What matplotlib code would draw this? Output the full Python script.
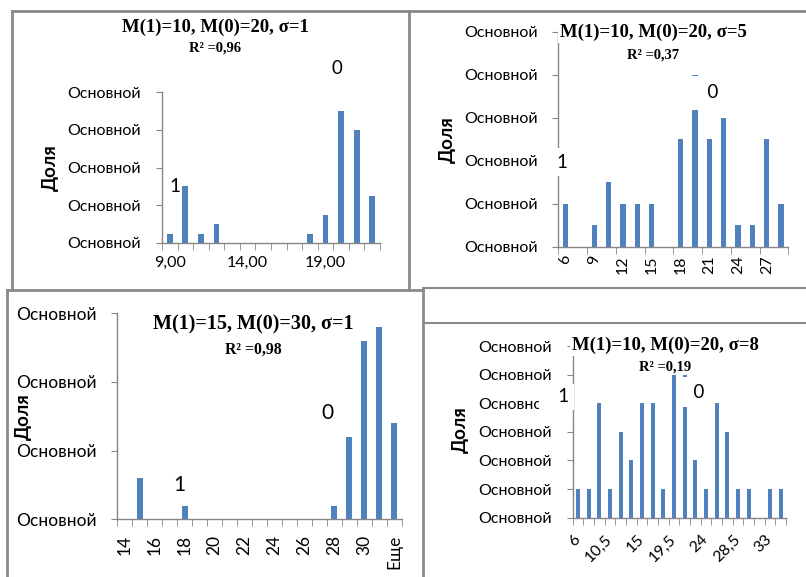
import numpy as np
import matplotlib
matplotlib.use("Agg")
import matplotlib.pyplot as plt
from matplotlib.lines import Line2D

plt.rcParams['font.family'] = ['Lato', 'DejaVu Sans']

W, H = 806, 577
BLUE = '#4F81BD'
GRID = '#868686'
SERIF = 'Liberation Serif'

# panel 1: M(1)=10, M(0)=20, sigma=1
cats1 = [f'{v},00' for v in range(9, 23)]
vals1 = [0.25, 1.5, 0.25, 0.5, 0, 0, 0, 0, 0, 0.25, 0.75, 3.5, 3.0, 1.25]

# panel 2: M(1)=10, M(0)=20, sigma=5
cats2 = ['6', '7,5', '9', '10,5', '12', '13,5', '15', '16,5', '18', '19,5',
         '21', '22,5', '24', '25,5', '27', '28,5']
vals2 = [1, 0, 0.5, 1.5, 1, 1, 1, 0, 2.5, 4, 2.5, 3, 0.5, 0.5, 2.5, 1]

# panel 3: M(1)=15, M(0)=30, sigma=1
cats3 = [str(v) for v in range(14, 32)] + ['Еще']
vals3 = [0, 0.6, 0, 0, 0.2, 0, 0, 0, 0, 0, 0, 0, 0, 0, 0.2, 1.2, 2.6, 2.8, 1.4]

# panel 4: M(1)=10, M(0)=20, sigma=8
cats4 = ['6', '7,5', '9', '10,5', '12', '13,5', '15', '16,5', '18', '19,5',
         '21', '22,5', '24', '25,5', '27', '28,5', '30', '31,5', '33', '34,5']
vals4 = [1, 1, 4, 1, 3, 2, 4, 4, 1, 5, 5, 2, 1, 4, 3, 1, 1, 0, 1, 1]

titles = ['M(1)=10, M(0)=20, σ=1', 'M(1)=10, M(0)=20, σ=5',
          'M(1)=15, M(0)=30, σ=1', 'M(1)=10, M(0)=20, σ=8']
r2 = ['0,96', '0,37', '0,98', '0,19']

fig = plt.figure(figsize=(W / 100, H / 100), dpi=100)


def fx(x):
    return x / W


def fy(y):
    return 1 - y / H


def add_panel(box, cats, vals, ymax, lab_step, tick_step, rot, fs=11.5, xpad=8):
    x0, y0, x1, y1 = box
    ax = fig.add_axes([fx(x0), fy(y1), fx(x1) - fx(x0), (y1 - y0) / H])
    n = len(cats)
    pos = np.arange(n) + 0.5
    ax.bar(pos, vals, width=0.38, color=BLUE, zorder=2)
    ax.set_xlim(0, n)
    ax.set_ylim(0, ymax)
    for s in ['top', 'right']:
        ax.spines[s].set_visible(False)
    for s in ['left', 'bottom']:
        ax.spines[s].set_color(GRID)
        ax.spines[s].set_linewidth(1.0)
    ax.set_yticks(range(ymax + 1))
    ax.set_yticklabels(['Основной'] * (ymax + 1), fontsize=fs)
    ax.tick_params(axis='y', length=4, color=GRID, pad=11)
    ax.set_xticks(pos[::lab_step])
    if rot == 0:
        ax.set_xticklabels(cats[::lab_step], fontsize=fs)
    elif rot == 90:
        ax.set_xticklabels(cats[::lab_step], fontsize=fs, rotation=90, va='top', ha='center')
    else:
        ax.set_xticklabels(cats[::lab_step], fontsize=fs, rotation=45, ha='right',
                           va='center', rotation_mode='anchor')
    ax.tick_params(axis='x', which='major', length=0, pad=xpad)
    ax.set_xticks(np.arange(0, n + 1, tick_step), minor=True)
    ax.tick_params(axis='x', which='minor', length=5, color=GRID)
    return ax


add_panel((162, 92, 380, 243), cats1, vals1, 4, 5, 1, 0, xpad=9)
add_panel((558.3, 31.7, 788.3, 246.7), cats2, vals2, 5, 2, 2, 90, xpad=6)
add_panel((117.3, 313.3, 401.7, 519.3), cats3, vals3, 3, 2, 1, 90, fs=12.5, xpad=11)
add_panel((572.7, 346, 786, 517.7), cats4, vals4, 6, 3, 1, 45, xpad=14)

# titles
title_pos = [(215, 27, 48, 13.5), (653, 32, 55, 13.5), (253, 324, 350, 14.5), (665, 345, 367, 13.5)]
for (x, yt, yr, fs), t, r in zip(title_pos, titles, r2):
    fig.text(fx(x), fy(yt), t, ha='center', va='center', fontsize=fs, fontweight='bold',
             family=SERIF, zorder=5,
             bbox=dict(boxstyle='square,pad=0.1', fc='white', ec='none'))
    fig.text(fx(x), fy(yr), f'R² ={r}', ha='center', va='center',
             fontsize=fs * 0.78, fontweight='bold', family=SERIF, zorder=5)

# y labels
for x, y in [(50, 168), (447, 140), (23, 417), (460, 430)]:
    fig.text(fx(x), fy(y), 'Доля', rotation=90, ha='center', va='center',
             fontsize=13.5, fontweight='bold')

# class labels (white label boxes, as in the Excel charts): text, right x, y, size, pad
marks = [('1', 180, 187, 13.5, 0.02), ('0', 342, 68, 13.5, 0.2),
         ('1', 567, 162, 13.5, 0.3), ('  0', 718, 93, 13.5, 0.45),
         ('1', 185, 485, 15, 0.2), ('0', 333, 413, 15, 0.2),
         ('   1', 569, 397, 13.5, 0.25), ('  0', 704, 392, 13.5, 0.37)]
for t, x, y, fs, pad in marks:
    fig.text(fx(x), fy(y), t, ha='right', va='center', fontsize=fs, zorder=6,
             bbox=dict(boxstyle=f'square,pad={pad}', fc='white', ec='none'))

# frames
frames = [((12, 806), (11, 11), 2.0), ((12, 12), (11, 290), 2.0), ((409, 409), (11, 290), 2.0),
          ((7, 423), (290, 290), 2.0), ((7, 7), (290, 577), 2.0), ((423, 423), (290, 577), 2.0),
          ((423, 806), (288, 288), 1.5), ((423, 806), (323, 323), 1.5)]
for xs, ys, lw in frames:
    fig.add_artist(Line2D([fx(xs[0]), fx(xs[1])], [fy(ys[0]), fy(ys[1])],
                          transform=fig.transFigure, color='#8a8a8a', lw=lw))

fig.savefig('out.png', dpi=100)
